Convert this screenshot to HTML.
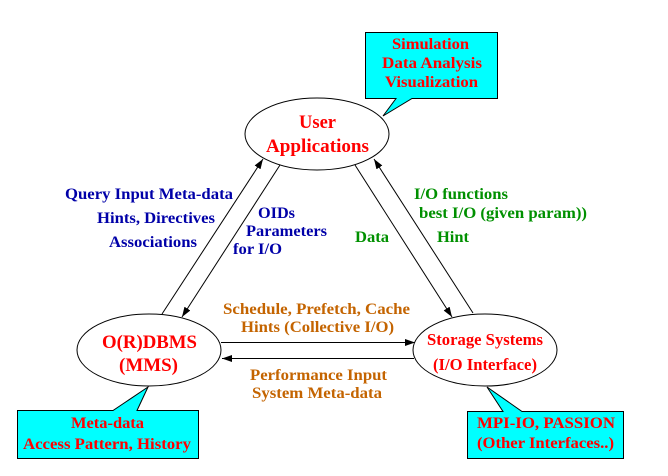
<!DOCTYPE html>
<html>
<head>
<meta charset="utf-8">
<style>
  html, body { margin: 0; padding: 0; background: #ffffff; }
  svg { display: block; }
  text { font-family: "Liberation Serif", "DejaVu Serif", serif; font-weight: bold; }
  .r { fill: #ff0000; }
  .b { fill: #0000a8; }
  .g { fill: #009000; }
  .o { fill: #c46400; }
</style>
</head>
<body>
<svg width="668" height="476" viewBox="0 0 668 476" xmlns="http://www.w3.org/2000/svg">
  <defs>
    <marker id="ah" markerUnits="userSpaceOnUse" markerWidth="11" markerHeight="8" refX="10" refY="3.5" orient="auto">
      <path d="M0,0 L10,3.5 L0,7 z" fill="#000"/>
    </marker>
  </defs>
  <rect x="0" y="0" width="668" height="476" fill="#fff"/>

  <!-- callouts -->
  <path d="M365.5,32.5 H497.5 V98.5 H412 L383,116 L396,98.5 H365.5 Z" fill="#00ffff" stroke="#000" stroke-width="1"/>
  <path d="M17.5,410.5 H113 L148,387 L137,410.5 H198.5 V458.5 H17.5 Z" fill="#00ffff" stroke="#000" stroke-width="1"/>
  <path d="M467.5,411.5 H503 L487,387 L522,411.5 H623.5 V458.5 H467.5 Z" fill="#00ffff" stroke="#000" stroke-width="1"/>

  <!-- ellipses -->
  <ellipse cx="317" cy="134" rx="72" ry="36" fill="#fff" stroke="#000" stroke-width="1"/>
  <ellipse cx="149" cy="350" rx="72" ry="36" fill="#fff" stroke="#000" stroke-width="1"/>
  <ellipse cx="485" cy="350" rx="72" ry="36" fill="#fff" stroke="#000" stroke-width="1"/>

  <!-- arrows -->
  <g stroke="#000" stroke-width="1" fill="none">
    <line x1="162" y1="314" x2="263" y2="159" marker-end="url(#ah)"/>
    <line x1="280" y1="165" x2="182" y2="317" marker-end="url(#ah)"/>
    <line x1="355" y1="165" x2="452" y2="317" marker-end="url(#ah)"/>
    <line x1="473" y1="313" x2="374" y2="159" marker-end="url(#ah)"/>
    <line x1="221" y1="342.5" x2="415" y2="342.5" marker-end="url(#ah)"/>
    <line x1="414" y1="358.5" x2="222" y2="358.5" marker-end="url(#ah)"/>
  </g>

  <!-- top callout text -->
  <text class="r" x="392" y="49" font-size="16" textLength="77" lengthAdjust="spacingAndGlyphs">Simulation</text>
  <text class="r" x="382" y="68" font-size="16" textLength="100" lengthAdjust="spacingAndGlyphs">Data Analysis</text>
  <text class="r" x="385" y="87" font-size="16" textLength="93" lengthAdjust="spacingAndGlyphs">Visualization</text>

  <!-- User Applications -->
  <text class="r" x="299" y="128" font-size="19" textLength="37" lengthAdjust="spacingAndGlyphs">User</text>
  <text class="r" x="266" y="152" font-size="19" textLength="103" lengthAdjust="spacingAndGlyphs">Applications</text>

  <!-- left blue labels -->
  <text class="b" x="65" y="199" font-size="16" textLength="168" lengthAdjust="spacingAndGlyphs">Query Input Meta-data</text>
  <text class="b" x="97" y="223" font-size="16" textLength="118" lengthAdjust="spacingAndGlyphs">Hints, Directives</text>
  <text class="b" x="109" y="247" font-size="16" textLength="88" lengthAdjust="spacingAndGlyphs">Associations</text>

  <text class="b" x="258" y="218" font-size="16" textLength="37" lengthAdjust="spacingAndGlyphs">OIDs</text>
  <text class="b" x="246" y="236" font-size="16" textLength="81" lengthAdjust="spacingAndGlyphs">Parameters</text>
  <text class="b" x="233" y="254" font-size="16" textLength="49" lengthAdjust="spacingAndGlyphs">for I/O</text>

  <!-- right green labels -->
  <text class="g" x="414" y="199" font-size="16" textLength="94" lengthAdjust="spacingAndGlyphs">I/O functions</text>
  <text class="g" x="419" y="218" font-size="16" textLength="168" lengthAdjust="spacingAndGlyphs">best I/O (given param))</text>
  <text class="g" x="355" y="242" font-size="16" textLength="34" lengthAdjust="spacingAndGlyphs">Data</text>
  <text class="g" x="437" y="242" font-size="16" textLength="32" lengthAdjust="spacingAndGlyphs">Hint</text>

  <!-- orange labels -->
  <text class="o" x="223" y="314" font-size="16" textLength="187" lengthAdjust="spacingAndGlyphs">Schedule, Prefetch, Cache</text>
  <text class="o" x="241" y="332" font-size="16" textLength="153" lengthAdjust="spacingAndGlyphs">Hints (Collective I/O)</text>
  <text class="o" x="250" y="380" font-size="16" textLength="137" lengthAdjust="spacingAndGlyphs">Performance Input</text>
  <text class="o" x="252" y="398" font-size="16" textLength="130" lengthAdjust="spacingAndGlyphs">System Meta-data</text>

  <!-- O(R)DBMS -->
  <text class="r" x="102" y="348" font-size="19" textLength="95" lengthAdjust="spacingAndGlyphs">O(R)DBMS</text>
  <text class="r" x="119" y="371" font-size="19" textLength="59" lengthAdjust="spacingAndGlyphs">(MMS)</text>

  <!-- Storage Systems -->
  <text class="r" x="427" y="345" font-size="17" textLength="116" lengthAdjust="spacingAndGlyphs">Storage Systems</text>
  <text class="r" x="433" y="370" font-size="17" textLength="104" lengthAdjust="spacingAndGlyphs">(I/O Interface)</text>

  <!-- bottom-left callout text -->
  <text class="r" x="71" y="428" font-size="16" textLength="73" lengthAdjust="spacingAndGlyphs">Meta-data</text>
  <text class="r" x="23" y="449" font-size="16" textLength="168" lengthAdjust="spacingAndGlyphs">Access Pattern, History</text>

  <!-- bottom-right callout text -->
  <text class="r" x="477" y="428" font-size="16" textLength="138" lengthAdjust="spacingAndGlyphs">MPI-IO, PASSION</text>
  <text class="r" x="477" y="448" font-size="16" textLength="137" lengthAdjust="spacingAndGlyphs">(Other Interfaces..)</text>
</svg>
</body>
</html>
